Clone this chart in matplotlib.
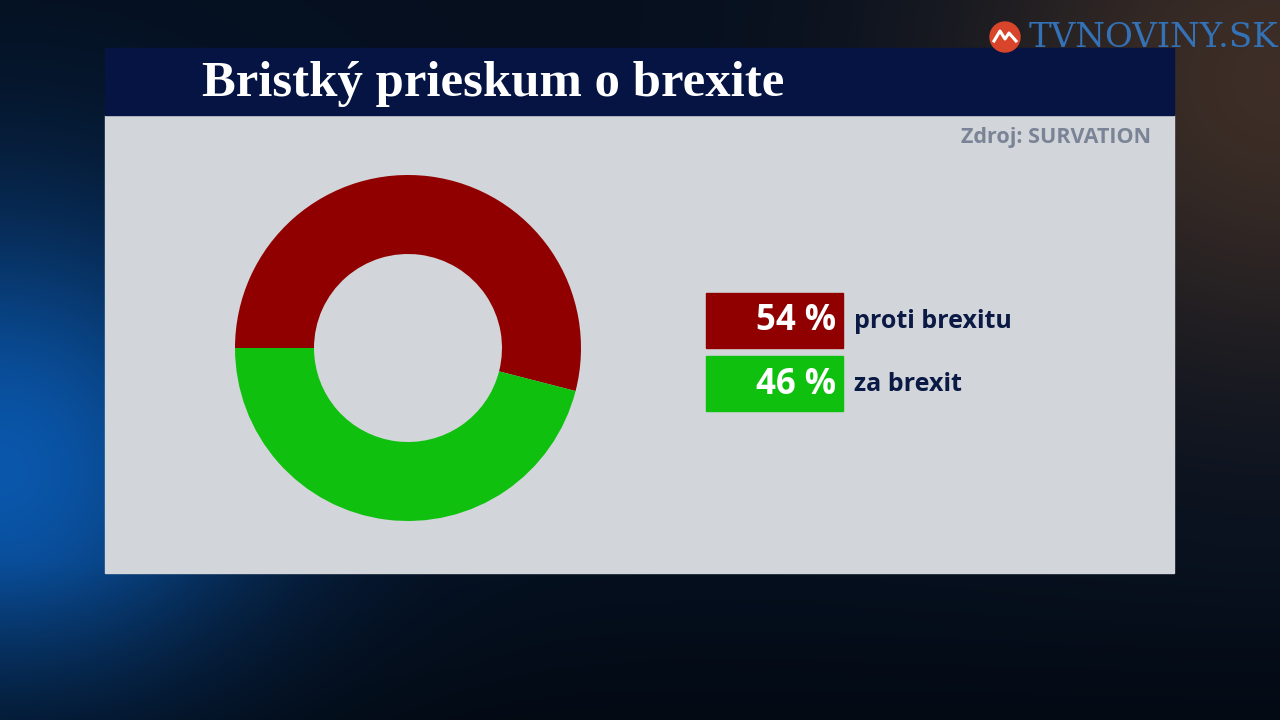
import numpy as np
import matplotlib
matplotlib.use("Agg")
import matplotlib.pyplot as plt
from matplotlib.patches import Rectangle, Circle

# data
labels = ["proti brexitu", "za brexit"]
values = [54, 46]
colors = ["#910000", "#0fc00f"]
title = "Bristký prieskum o brexite"
source = "Zdroj: SURVATION"

W, H = 1280, 720
fig = plt.figure(figsize=(W / 100, H / 100), dpi=100)

def fx(x):
    return x / W

def fy(y):
    return 1 - y / H

# background gradient
bg = fig.add_axes([0, 0, 1, 1])
yy, xx = np.mgrid[0:H, 0:W]
base = np.array([0.02, 0.06, 0.12])
img = np.ones((H, W, 3)) * base
blue = np.exp(-(((xx - 0) / 260.0) ** 2 + ((yy - 470) / 260.0) ** 2))
img += blue[..., None] * np.array([0.02, 0.28, 0.55])
warm = np.exp(-(((xx - 1280) / 330.0) ** 2 + ((yy - 80) / 300.0) ** 2))
img += warm[..., None] * np.array([0.22, 0.12, 0.03])
dark = np.clip((yy - 560) / 160.0, 0, 1)
img *= (1 - 0.35 * dark)[..., None]
bg.imshow(np.clip(img, 0, 1), extent=[0, W, H, 0], aspect="auto")
bg.set_xlim(0, W)
bg.set_ylim(H, 0)
bg.axis("off")

# panel and title bar
bg.add_patch(Rectangle((105, 115), 1069, 458, color="#d2d5d9", zorder=2))
bg.add_patch(Rectangle((105, 48), 1069, 67, color="#061443", zorder=2))
bg.text(202, 84, title, color="white", fontsize=36.5, fontweight="bold",
        family="Liberation Serif", va="center", ha="left", zorder=3)
bg.text(1151, 138, source, color="#7a8496", fontsize=15.5, fontweight="bold",
        family="Open Sans", va="center", ha="right", zorder=3)

# logo
bg.add_patch(Circle((1005, 37), 15, color="#d8452a", zorder=3))
bg.plot([994, 1000, 1005, 1009, 1016], [41, 31, 39, 33, 41], color="white", lw=2.2, zorder=4)
bg.text(1278, 38, "TVNOVINY.SK", color="#3472b8", fontsize=24.5, family="DejaVu Serif",
        va="center", ha="right", zorder=3)

# donut
cx, cy, r_out, r_in = 408, 348, 173, 94
ax = fig.add_axes([fx(cx - r_out), fy(cy + r_out), 2 * r_out / W, 2 * r_out / H])
ax.pie(values, colors=colors, startangle=180, counterclock=False, radius=1,
       wedgeprops=dict(width=(r_out - r_in) / r_out, linewidth=0))
ax.set_xlim(-1, 1)
ax.set_ylim(-1, 1)
ax.set_aspect("equal")
ax.axis("off")

# legend boxes
box_x, box_w, box_h = 706, 137, 55
box_y = [293, 356]
for i in range(len(values)):
    bg.add_patch(Rectangle((box_x, box_y[i]), box_w, box_h, color=colors[i], zorder=3))
    bg.text(box_x + box_w - 7, box_y[i] + box_h / 2 + 1, f"{values[i]} %", color="white",
            fontsize=25, fontweight="bold", family="Open Sans", va="center", ha="right", zorder=4)
    bg.text(box_x + box_w + 11, box_y[i] + box_h / 2 + 1, labels[i], color="#0b1a45",
            fontsize=18, fontweight="bold", family="Open Sans", va="center", ha="left", zorder=4)

fig.savefig("out.png", dpi=100)
